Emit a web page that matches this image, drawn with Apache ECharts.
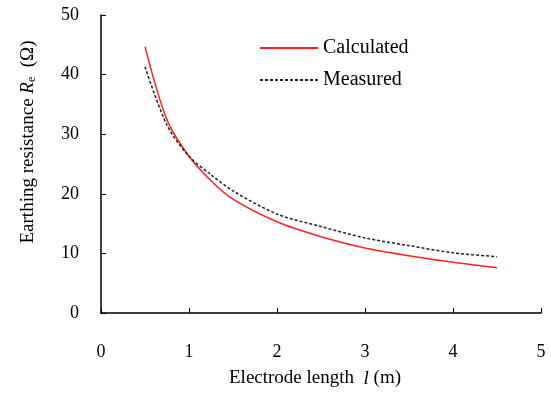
<!DOCTYPE html>
<html><head><meta charset="utf-8">
<script src="https://cdn.jsdelivr.net/npm/echarts@6/dist/echarts.min.js"></script>
<style>html,body{margin:0;padding:0;background:#fff}#c{width:551px;height:393px}</style>
</head><body><div id="c"></div>
<script>
const lengths = [0.5, 0.75, 1.0, 1.25, 1.5, 2.0, 2.5, 3.0, 3.5, 4.0, 4.5];
const calculated = [44.7, 32.4, 26.3, 22.2, 19.1, 15.3, 12.8, 10.9, 9.6, 8.5, 7.6];
const measured = [41.3, 31.5, 26.3, 23.2, 20.5, 16.6, 14.5, 12.6, 11.3, 10.1, 9.45];
const xTicks = [0, 1, 2, 3, 4, 5];
const yTicks = [0, 10, 20, 30, 40, 50];

const font = 'Liberation Serif';
const chart = echarts.init(document.getElementById('c'));
chart.setOption({
  backgroundColor: '#fff',
  animation: false,
  textStyle: { fontFamily: font, color: '#000' },
  grid: { left: 101, right: 10, top: 15, bottom: 78 },
  legend: {
    show: true,
    orient: 'vertical', left: 254, top: 33, itemWidth: 58, itemHeight: 12, itemGap: 12,
    itemStyle: { opacity: 0 },
    textStyle: { fontFamily: font, fontSize: 20, color: '#000' },
    data: ['Calculated', 'Measured']
  },
  xAxis: {
    type: 'value', min: xTicks[0], max: xTicks[xTicks.length - 1], interval: 1,
    name: 'Electrode length  {i|l} (m)', nameLocation: 'middle', nameGap: 56,
    nameTextStyle: { fontFamily: font, fontSize: 19, color: '#000', padding: [0, 12, 0, 0],
      rich: { i: { fontFamily: font, fontStyle: 'italic', fontSize: 19 } } },
    axisLine: { lineStyle: { color: '#000', width: 1.5 } },
    axisTick: { inside: true, length: 5, lineStyle: { color: '#000' } },
    axisLabel: { margin: 30, fontSize: 18, color: '#000', fontFamily: font },
    splitLine: { show: false }
  },
  yAxis: {
    type: 'value', min: yTicks[0], max: yTicks[yTicks.length - 1], interval: 10,
    name: 'Earthing resistance {i|R}{sub|e}  (Ω)', nameLocation: 'middle', nameGap: 63, nameRotate: 90,
    nameTextStyle: { fontFamily: font, fontSize: 19, color: '#000', padding: [0, 0, 0, 44],
      rich: { i: { fontFamily: font, fontStyle: 'italic', fontSize: 19 },
              sub: { fontFamily: font, fontSize: 12, verticalAlign: 'bottom', padding: [8, 0, 0, 0] } } },
    axisLine: { show: true, lineStyle: { color: '#000', width: 1.5 } },
    axisTick: { show: true, inside: true, length: 5, lineStyle: { color: '#000' } },
    axisLabel: { margin: 22, fontSize: 18, color: '#000', fontFamily: font },
    splitLine: { show: false }
  },
  series: [
    { name: 'Calculated', type: 'line', smooth: 0.3, symbol: 'none',
      data: lengths.map((x, i) => [x, calculated[i]]),
      lineStyle: { color: '#ff2020', width: 1.5 }, itemStyle: { color: '#ff2020' } },
    { name: 'Measured', type: 'line', smooth: 0.3, symbol: 'none',
      data: lengths.map((x, i) => [x, measured[i]]),
      lineStyle: { color: '#222', width: 1.5, type: [3, 2] }, itemStyle: { color: '#222' } }
  ]
});
</script></body></html>
